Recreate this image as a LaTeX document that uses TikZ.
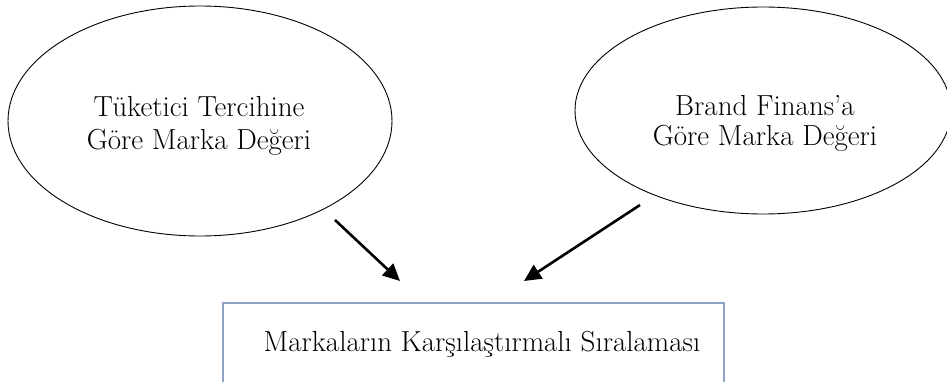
\documentclass[tikz,border=0pt]{standalone}
\usetikzlibrary{shapes.geometric,arrows.meta}
\definecolor{boxblue}{RGB}{143,164,196}
\begin{document}
\begin{tikzpicture}[x=1pt,y=-1pt,
  bubble/.style={ellipse,draw=black,line width=0.9pt,inner sep=0pt},
  bubbletext/.style={align=center,inner sep=0pt},
  result/.style={draw=boxblue,line width=1.2pt,font=\fontsize{29}{33}\selectfont,
    minimum height=82pt,inner sep=0pt},
  flow/.style={line width=2.6pt,-{Triangle[length=17pt,width=16pt]}}]
\useasboundingbox (0,0) rectangle (947,382);
\clip (0,0) rectangle (947,382);
\node[bubble,minimum width=384pt,minimum height=230pt] (tuk) at (200,121) {};
\node[bubbletext,font=\fontsize{29}{33}\selectfont] (tuktext) at (199,126) {Tüketici Tercihine\\Göre Marka Değeri};
\node[bubble,minimum width=376pt,minimum height=207pt] (bf) at (763,110.5) {};
\node[bubbletext,font=\fontsize{29}{30}\selectfont] (bftext) at (765,123) {Brand Finans’a\\Göre Marka Değeri};
\node[result,minimum width=501pt] (sira) at (473.5,344) {\hspace*{17pt}Markaların Karşılaştırmalı Sıralaması};
\coordinate (a1s) at (335,220);
\coordinate (a1e) at (400,281);
\coordinate (a2s) at (640,205);
\coordinate (a2e) at (524,281);
\draw[flow] (a1s) -- (a1e);
\draw[flow] (a2s) -- (a2e);
\end{tikzpicture}
\end{document}
